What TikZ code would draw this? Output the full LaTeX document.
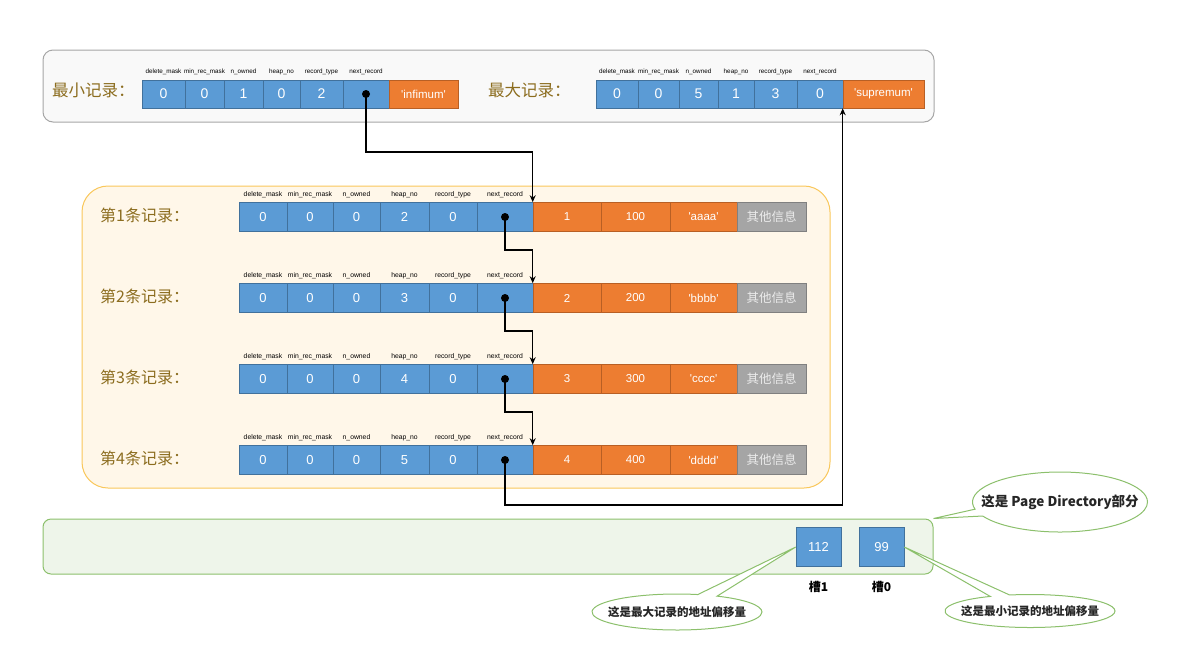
\documentclass[tikz,border=0pt]{standalone}
\usepackage{fontspec}
\setmainfont{Liberation Sans}
\newfontfamily\cjk{Noto Sans CJK SC}
\usetikzlibrary{arrows.meta,shapes.callouts}

\definecolor{cellblue}{HTML}{5B9BD5}
\definecolor{cellbluedk}{HTML}{41719C}
\definecolor{cellorange}{HTML}{ED7D31}
\definecolor{cellorangedk}{HTML}{B85F24}
\definecolor{cellgray}{HTML}{A5A5A5}
\definecolor{cellgraydk}{HTML}{808080}
\definecolor{labelbrown}{HTML}{8C6D1F}
\definecolor{panelfill}{HTML}{FFF7E9}
\definecolor{panelline}{HTML}{F9C75B}
\definecolor{dirfill}{HTML}{EEF5EA}
\definecolor{dirline}{HTML}{8CC06C}

\tikzset{
  reccell/.style={draw, line width=0.6pt, inner sep=0pt, minimum height=29pt, text=white, font=\fontsize{13}{15}\selectfont},
  bluecell/.style={reccell, fill=cellblue, draw=cellbluedk},
  orangecell/.style={reccell, fill=cellorange, draw=cellorangedk, font=\fontsize{11.5}{13}\selectfont},
  graycell/.style={reccell, fill=cellgray, draw=cellgraydk, text=white!92!black, font=\cjk\fontsize{12.5}{14}\selectfont},
  hdr/.style={font=\fontsize{6.8}{7}\selectfont, inner sep=0pt},
  tophdr/.style={hdr, font=\fontsize{6.3}{7}\selectfont},
  reclabel/.style={text=labelbrown, font=\cjk\fontsize{16}{18}\selectfont, anchor=west, inner sep=0pt},
  ptrdot/.style={circle, fill=black, inner sep=0pt, minimum size=8pt},
  ptr/.style={line width=1.5pt, -{Stealth[length=7pt,width=6pt]}},
  notebubble/.style={ellipse callout, draw=dirline, line width=1pt, fill=white, text=black!85, font=\cjk\bfseries\fontsize{11.5}{13}\selectfont, inner sep=0pt, callout pointer arc=14},
  slotlabel/.style={font=\cjk\bfseries\fontsize{12}{14}\selectfont, inner sep=0pt},
}

\begin{document}
\begin{tikzpicture}[x=1pt,y=-1pt]
\useasboundingbox (0,0) rectangle (1180,662);

% panels
\node[draw=gray!70, fill=gray!5, line width=1pt, rounded corners=10pt, minimum width=891pt, minimum height=72pt] (toppanel) at (488.5,86) {};
\node[draw=panelline, fill=panelfill, line width=1pt, rounded corners=26pt, minimum width=748pt, minimum height=302pt] (recpanel) at (456,337) {};
\node[draw=dirline, fill=dirfill, line width=1pt, rounded corners=8pt, minimum width=890pt, minimum height=55pt] (pagedir) at (488,546.5) {};

% infimum / supremum
\node[reclabel, font=\cjk\fontsize{16.5}{18}\selectfont] (minlab) at (52,90) {最小记录：};
\foreach \l/\r/\v/\h [count=\i] in {142/185/0/delete\_mask,185/224/0/min\_rec\_mask,224/263/1/n\_owned,263/300/0/heap\_no,300/343/2/record\_type,343/389//next\_record} {
  \node[bluecell, minimum height=28pt, minimum width={(\r-\l)*1pt}, font=\fontsize{14}{16}\selectfont] (min\i) at ({(\l+\r)/2},94) {\v};
  \node[tophdr] (minh\i) at ({(\l+\r)/2},72) {\h};
}
\node[orangecell, minimum height=28pt, minimum width=69pt] (min7) at (423.5,94) {\textquotesingle infimum\textquotesingle};
\node[ptrdot] (mindot) at (min6.center) {};

\node[reclabel, font=\cjk\fontsize{16.5}{18}\selectfont] (maxlab) at (488,90) {最大记录：};
\foreach \l/\r/\v/\h [count=\i] in {596/638/0/delete\_mask,638/679/0/min\_rec\_mask,679/718/5/n\_owned,718/754/1/heap\_no,754/797/3/record\_type,797/843/0/next\_record} {
  \node[bluecell, minimum height=28pt, minimum width={(\r-\l)*1pt}, font=\fontsize{14}{16}\selectfont] (max\i) at ({(\l+\r)/2},94) {\v};
  \node[tophdr] (maxh\i) at ({(\l+\r)/2},72) {\h};
}
\node[orangecell, minimum height=28pt, minimum width=81pt] (max7) at (883.5,94) {\textquotesingle supremum\textquotesingle};

% user records
\foreach \n/\y/\hn/\nn/\tx in {1/217/2/100/aaaa,2/298/3/200/bbbb,3/379/4/300/cccc,4/460/5/400/dddd} {
  \node[reclabel] (lab\n) at (100,\y-2) {第\n{}条记录：};
  \foreach \l/\r/\v/\h [count=\i] in {239/287/0/delete\_mask,287/333/0/min\_rec\_mask,333/380/0/n\_owned,380/429/\hn/heap\_no,429/477/0/record\_type,477/533//next\_record} {
    \node[bluecell, minimum width={(\r-\l)*1pt}] (r\n c\i) at ({(\l+\r)/2},\y) {\v};
    \node[hdr] (r\n h\i) at ({(\l+\r)/2},\y-22) {\h};
  }
  \node[orangecell, minimum width=68pt] (r\n c7) at (567,\y) {\n};
  \node[orangecell, minimum width=69pt] (r\n c8) at (635.5,\y) {\nn};
  \node[orangecell, minimum width=67pt] (r\n c9) at (703.5,\y) {\textquotesingle\tx\textquotesingle};
  \node[graycell, minimum width=69pt] (r\n c10) at (771.5,\y) {其他信息};
  \node[ptrdot] (r\n dot) at (r\n c6.center) {};
}

% next_record links
\draw[ptr] (mindot.center) -- ++(0,58) -| (r1c7.north west);
\foreach \a/\b in {1/2,2/3,3/4}
  \draw[ptr] (r\a dot.center) -- ++(0,33) -| (r\b c7.north west);
\draw[ptr] (r4dot.center) -- ++(0,45) -| (max7.south west);

% page directory
\node[bluecell, minimum width=45pt, minimum height=39pt] (slot1) at (818.5,547) {112};
\node[bluecell, minimum width=45pt, minimum height=39pt] (slot0) at (881.5,547) {99};
\node[slotlabel] (slot1lab) at (818.5,587) {槽1};
\node[slotlabel] (slot0lab) at (881.5,587) {槽0};

\node[notebubble, minimum width=175pt, minimum height=60pt, font=\cjk\bfseries\fontsize{13.5}{15}\selectfont, callout absolute pointer=(pagedir.north east)] (pdnote) at (1060,502) {\makebox[0pt]{这是 Page Directory部分}};
\node[notebubble, minimum width=170pt, minimum height=33pt, callout absolute pointer=(slot0.east)] (slot0note) at (1030,611) {\makebox[0pt]{这是最小记录的地址偏移量}};
\node[notebubble, minimum width=170pt, minimum height=36pt, callout absolute pointer=(slot1.west)] (slot1note) at (677,612) {\makebox[0pt]{这是最大记录的地址偏移量}};
\end{tikzpicture}
\end{document}
